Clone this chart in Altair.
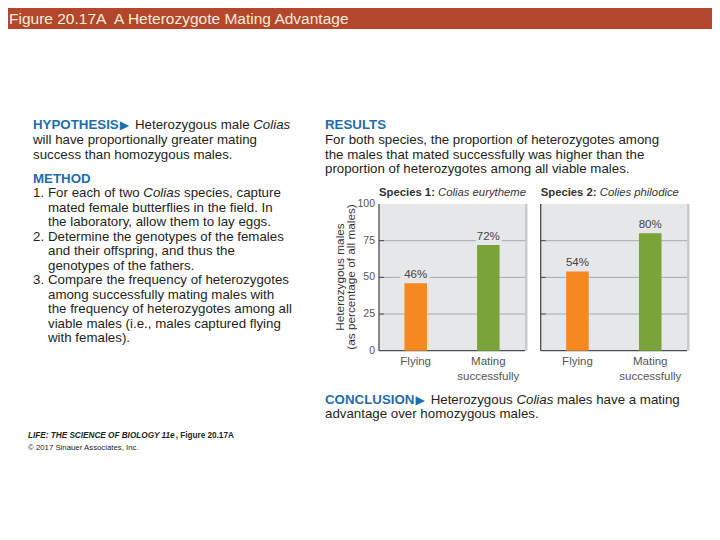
import altair as alt
import pandas as pd

# ---------------- data ----------------
categories = ["Flying", "Mating successfully"]
species1_values = [46, 72]
species2_values = [54, 80]
species_bold = ["Species 1:", "Species 2:"]
species_italic = ["Colias eurytheme", "Colies philodice"]
y_tick_values = [0, 25, 50, 75, 100]
grid_values = [25, 50, 75]
y_title_lines = ["Heterozygous males", "(as percentage of all males)"]

figure_title = "Figure 20.17A  A Heterozygote Mating Advantage"
hypothesis_head = "HYPOTHESIS"
hypothesis_lines = [
    [("Heterozygous male ", "r"), ("Colias", "i")],
    [("will have proportionally greater mating", "r")],
    [("success than homozygous males.", "r")],
]
method_head = "METHOD"
method_items = [
    ("1.", [[("For each of two ", "r"), ("Colias", "i"), (" species, capture", "r")],
            [("mated female butterflies in the field. In", "r")],
            [("the laboratory, allow them to lay eggs.", "r")]]),
    ("2.", [[("Determine the genotypes of the females", "r")],
            [("and their offspring, and thus the", "r")],
            [("genotypes of the fathers.", "r")]]),
    ("3.", [[("Compare the frequency of heterozygotes", "r")],
            [("among successfully mating males with", "r")],
            [("the frequency of heterozygotes among all", "r")],
            [("viable males (i.e., males captured flying", "r")],
            [("with females).", "r")]]),
]
results_head = "RESULTS"
results_lines = [
    [("For both species, the proportion of heterozygotes among", "r")],
    [("the males that mated successfully was higher than the", "r")],
    [("proportion of heterozygotes among all viable males.", "r")],
]
conclusion_head = "CONCLUSION"
conclusion_lines = [
    [("Heterozygous ", "r"), ("Colias", "i"), (" males have a mating", "r")],
    [("advantage over homozygous males.", "r")],
]
footer_line1 = [("LIFE: THE SCIENCE OF BIOLOGY 11e", "bi"), (", Figure 20.17A", "b")]
footer_line2 = "\u00a9 2017 Sinauer Associates, Inc."

# ---------------- styling / layout ----------------
OFF = 8  # page margin
FONT = "Liberation Sans, Arial, Helvetica, sans-serif"
ARROWFONT = "DejaVu Sans"
BODY = 13.3
BLUE = "#1f6dab"
INK = "#231f20"
GREY_TXT = "#555555"
PANEL_BG = "#e6e7e8"
GRID = "#a7a9ac"
AXIS = "#4d4d4d"
ORANGE = "#f5881f"
GREEN = "#7aa33a"
BAR_RED = "#b4462c"
TITLE_TXT = "#f8eedd"

_REG = dict(zip(" !\"#$%&'()*+,-./", [278, 278, 355, 556, 556, 889, 667, 191, 333, 333, 389, 584, 278, 333, 278, 278]))
_REG.update({d: 556 for d in "0123456789"})
_REG.update(zip(":;<=>?", [278, 278, 584, 584, 584, 556]))
_REG.update(zip("ABCDEFGHIJKLMNOPQRSTUVWXYZ", [667, 667, 722, 722, 667, 611, 778, 722, 278, 500, 667, 556, 833, 722, 778, 667, 778, 722, 667, 611, 722, 667, 944, 667, 667, 611]))
_REG.update(zip("abcdefghijklmnopqrstuvwxyz", [556, 556, 500, 556, 556, 278, 556, 556, 222, 222, 500, 222, 833, 556, 556, 556, 556, 333, 500, 278, 556, 500, 722, 500, 500, 500]))
_BOLD = dict(zip(" !\"#$%&'()*+,-./", [278, 333, 474, 556, 556, 889, 722, 238, 333, 333, 389, 584, 278, 333, 278, 278]))
_BOLD.update({d: 556 for d in "0123456789"})
_BOLD.update(zip(":;<=>?", [333, 333, 584, 584, 584, 611]))
_BOLD.update(zip("ABCDEFGHIJKLMNOPQRSTUVWXYZ", [722, 722, 722, 722, 667, 611, 778, 722, 278, 556, 722, 611, 833, 722, 778, 667, 778, 722, 667, 611, 722, 667, 944, 667, 667, 611]))
_BOLD.update(zip("abcdefghijklmnopqrstuvwxyz", [556, 611, 556, 611, 556, 333, 611, 611, 278, 278, 556, 278, 889, 611, 611, 611, 611, 389, 556, 333, 611, 556, 778, 556, 556, 500]))


def tw(s, size, bold=False):
    tbl = _BOLD if bold else _REG
    return sum(tbl.get(c, 556) for c in s) * size / 1000.0


one = alt.Data(values=[{"k": 0}])
layers = []


def text(s, x, y, size=BODY, weight="normal", style="normal", color=INK, font=FONT,
         align="left", baseline="middle", angle=0):
    layers.append(
        alt.Chart(one).mark_text(text=s, font=font, fontSize=size, fontWeight=weight,
                                 fontStyle=style, color=color, align=align,
                                 baseline=baseline, angle=angle)
        .encode(x=alt.value(x - OFF), y=alt.value(y - OFF))
    )


def seg_line(segs, x, yc, size=BODY, font=FONT, color=INK):
    cur = 0.0
    for s, st in segs:
        bold = "b" in st
        lead = len(s) - len(s.lstrip(" "))
        body = s.strip(" ")
        if body:
            text(body, x + cur + tw(" " * lead, size, bold), yc, size,
                 weight="bold" if bold else "normal",
                 style="italic" if "i" in st else "normal", color=color, font=font)
        cur += tw(s, size, bold)


def header(s, x, yc, arrow=False):
    text(s, x, yc, BODY, weight="bold", color=BLUE)
    end = x + tw(s, BODY, True)
    if arrow:
        text("\u25b6", end + 1, yc, 12, color=BLUE, font=ARROWFONT)
        end = end + 1 + 0.77 * 12
    return end


# title bar
layers.append(
    alt.Chart(one).mark_rect(color=BAR_RED)
    .encode(x=alt.value(0), x2=alt.value(720 - OFF), y=alt.value(0), y2=alt.value(29 - OFF))
)
text(figure_title.replace("  ", "\u00a0 "), 9, 18.5, 15.5, color=TITLE_TXT)

# left column
LH = 14.5
e = header(hypothesis_head, 33, 125, arrow=True)
seg_line(hypothesis_lines[0], e + 6, 125)
seg_line(hypothesis_lines[1], 33, 140)
seg_line(hypothesis_lines[2], 33, 154.5)
header(method_head, 33, 178.5)
yc = 193
for num, lines in method_items:
    text(num, 33, yc)
    for ln in lines:
        seg_line(ln, 48, yc)
        yc += LH

# results text
header(results_head, 325, 125)
for i, ln in enumerate(results_lines):
    seg_line(ln, 325, 140 + i * LH)

# conclusion
e = header(conclusion_head, 325, 400, arrow=True)
seg_line(conclusion_lines[0], e + 6, 400)
seg_line(conclusion_lines[1], 325, 414)

# footer
seg_line(footer_line1, 28, 436, size=8.2)
text(footer_line2, 28, 448, 7.8)

# y-axis title (rotated)
text(y_title_lines[0], 340, 277, 11.8, color="#333333", align="center", angle=270)
text(y_title_lines[1], 350.5, 277, 11.8, color="#333333", align="center", angle=270)

# ---------------- panels ----------------
P_TOP, P_BOT = 204, 350.7
yscale = alt.Scale(domain=[0, 100], range=[P_BOT - OFF, P_TOP - OFF])
cscale = alt.Scale(domain=categories, range=[ORANGE, GREEN])


def panel(values, x0, x1, t_bold, t_ital, tick_labels):
    df = pd.DataFrame({"cat": categories, "v": values, "lab": [f"{v}%" for v in values]})
    xsc = alt.Scale(domain=categories, range=[x0 - OFF, x1 - OFF], paddingInner=0.69, paddingOuter=0.35)
    X = alt.X("cat:N", scale=xsc, axis=None, sort=categories)
    Y = alt.Y("v:Q", scale=yscale, axis=None)
    span = pd.DataFrame({"lo": [0], "hi": [100]})
    grid = pd.DataFrame({"g": grid_values})
    parts = []
    # shadow + background
    parts.append(alt.Chart(span).mark_rect(color="#c9cacc").encode(
        x=alt.value(x1 - OFF), x2=alt.value(x1 - OFF + 2.5),
        y=alt.Y("lo:Q", scale=yscale, axis=None), y2="hi:Q"))
    parts.append(alt.Chart(span).mark_rect(color=PANEL_BG).encode(
        x=alt.value(x0 - OFF), x2=alt.value(x1 - OFF),
        y=alt.Y("lo:Q", scale=yscale, axis=None), y2="hi:Q"))
    # grid
    parts.append(alt.Chart(grid).mark_rule(color=GRID, strokeWidth=1).encode(
        x=alt.value(x0 - OFF), x2=alt.value(x1 - OFF),
        y=alt.Y("g:Q", scale=yscale, axis=None)))
    parts.append(alt.Chart(grid).mark_rule(color=AXIS, strokeWidth=1).encode(
        x=alt.value(x0 - OFF), x2=alt.value(x0 - OFF + 5),
        y=alt.Y("g:Q", scale=yscale, axis=None)))
    # axis lines
    parts.append(alt.Chart(span).mark_rule(color=AXIS, strokeWidth=1.3).encode(
        x=alt.value(x0 - OFF), y=alt.Y("lo:Q", scale=yscale, axis=None), y2="hi:Q"))
    parts.append(alt.Chart(span).mark_rule(color=AXIS, strokeWidth=1.3).encode(
        x=alt.value(x0 - OFF), x2=alt.value(x1 - OFF), y=alt.Y("lo:Q", scale=yscale, axis=None)))
    # bars
    parts.append(alt.Chart(df).mark_bar().encode(
        x=X, y=Y, y2=alt.datum(0),
        color=alt.Color("cat:N", scale=cscale, legend=None)))
    # value labels with halo
    parts.append(alt.Chart(df).mark_text(font=FONT, fontSize=11.5, dy=-8, baseline="middle",
                                         fill=PANEL_BG, stroke=PANEL_BG, strokeWidth=6).encode(
        x=X, y=Y, text="lab:N"))
    parts.append(alt.Chart(df).mark_text(font=FONT, fontSize=11.5, dy=-8, baseline="middle",
                                         color="#444444").encode(x=X, y=Y, text="lab:N"))
    # category labels
    parts.append(alt.Chart(df).mark_text(font=FONT, fontSize=11.5, baseline="alphabetic",
                                         lineBreak=" ", lineHeight=15.5, color=GREY_TXT).encode(
        x=X, y=alt.value(364.5 - OFF), text="cat:N"))
    if tick_labels:
        ticks = pd.DataFrame({"t": y_tick_values})
        parts.append(alt.Chart(ticks).mark_text(font=FONT, fontSize=10.5, align="right",
                                                baseline="middle", color=GREY_TXT).encode(
            x=alt.value(375 - OFF), y=alt.Y("t:Q", scale=yscale, axis=None), text="t:Q"))
    # panel title
    seg_line([(t_bold + " ", "b"), (t_ital, "i")], x0, 193, size=11.3, color="#333333")
    return alt.layer(*parts)


layers.append(panel(species1_values, 379, 525, species_bold[0], species_italic[0], True))
layers.append(panel(species2_values, 540.7, 687, species_bold[1], species_italic[1], False))

chart = (
    alt.layer(*layers)
    .resolve_scale(x="independent")
    .properties(width=720 - 2 * OFF, height=540 - 2 * OFF, padding=0,
                autosize=alt.AutoSizeParams(type="none"))
    .configure_view(stroke=None)
)

chart.save("out.html", embed_options={"renderer": "svg", "actions": False})
